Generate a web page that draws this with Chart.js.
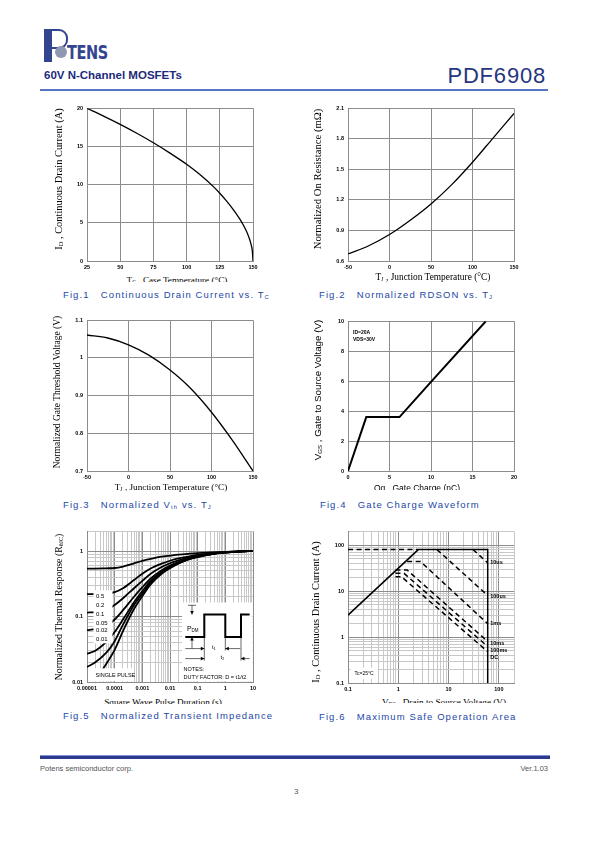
<!DOCTYPE html>
<html lang="es">
<head>
<meta charset="utf-8">
<title>PDF6908</title>
<script src="https://cdn.jsdelivr.net/npm/chart.js@4.4.1/dist/chart.umd.min.js"></script>
<style>
  html, body { margin: 0; padding: 0; background: #fff; }
  body { position: relative; width: 595px; height: 842px; overflow: hidden; font-family: Arial, "Liberation Sans", sans-serif; }
  canvas { position: absolute; }
  .abs { position: absolute; white-space: pre; }
  .ytit { position: absolute; white-space: nowrap; transform: translate(-50%, -50%) rotate(-90deg); font-family: "Liberation Serif", "Times New Roman", serif; font-size: 10px; color: #000; }
  .xtit { position: absolute; white-space: nowrap; transform: translate(-50%, -50%); font-family: "Liberation Serif", "Times New Roman", serif; font-size: 9.2px; color: #000; }
  .sans { font-family: Arial, "Liberation Sans", sans-serif; font-size: 8.5px; }
  .cap { position: absolute; white-space: pre; color: #2447a6; font-size: 9.5px; line-height: 12px; letter-spacing: 1.1px; background: #fff; padding-right: 4px; }
  sub { font-size: 62%; vertical-align: -0.25em; line-height: 0; }
</style>
</head>
<body>

<!-- Encabezado -->
<div class="abs" style="left:44px;top:29px;width:8px;height:33px;background:#34458f"></div>
<div class="abs" style="left:52px;top:29px;width:14px;height:16px;border:2px solid #34458f;border-left:none;border-radius:0 9px 9px 0"></div>
<div class="abs" style="left:55px;top:46px;width:12px;height:12px;border-radius:50%;background:#9097b0"></div>
<div class="abs" style="left:67px;top:41px;font:bold 19px 'DejaVu Sans Condensed', 'DejaVu Sans', sans-serif;color:#34458f;letter-spacing:-0.5px;transform:scaleX(0.85);transform-origin:left">TENS</div>
<div class="abs" style="left:44px;top:69px;font-weight:bold;font-size:11.5px;color:#1c2a7c">60V N-Channel MOSFETs</div>
<div class="abs" style="right:49px;top:63px;font-size:22px;color:#263581;letter-spacing:0.8px">PDF6908</div>
<div class="abs" style="left:40px;top:89px;width:508px;height:2px;background:#5676c4"></div>

<!-- Graficos -->
<canvas id="c1"></canvas>
<canvas id="c2"></canvas>
<canvas id="c3"></canvas>
<canvas id="c4"></canvas>
<canvas id="c5"></canvas>
<canvas id="c6"></canvas>

<!-- Titulos de ejes -->
<div class="ytit" style="left:58px;top:179px;font-size:10.4px">I<sub>D</sub> , Continuous Drain Current (A)</div>
<div class="xtit" style="left:177px;top:280px">T<sub>C</sub> , Case Temperature (°C)</div>
<div class="ytit" style="left:317px;top:179px;font-size:10.7px">Normalized On Resistance (mΩ)</div>
<div class="xtit" style="left:433px;top:277px;font-size:9.4px">T<sub>J</sub> , Junction Temperature (°C)</div>
<div class="ytit" style="left:57px;top:392px;font-size:9.5px">Normalized Gate Threshold Voltage (V)</div>
<div class="xtit" style="left:171px;top:487px">T<sub>J</sub> , Junction Temperature (°C)</div>
<div class="ytit sans" style="left:317px;top:390px;font-size:9.8px">V<sub>GS</sub> , Gate to Source Voltage (V)</div>
<div class="xtit sans" style="left:417px;top:488px">Qg , Gate Charge (nC)</div>
<div class="ytit" style="left:58px;top:607px;font-size:9.8px">Normalized Thermal Response (R<sub>θJC</sub>)</div>
<div class="xtit" style="left:163px;top:702px">Square Wave Pulse Duration (s)</div>
<div class="ytit" style="left:315px;top:612px;font-size:10.4px">I<sub>D</sub> , Continuous Drain Current (A)</div>
<div class="xtit" style="left:444px;top:702px">V<sub>DS</sub> , Drain to Source Voltage (V)</div>

<!-- Leyendas de figura -->
<div class="cap" style="left:63px;top:282px;padding-top:7px">Fig.1   Continuous Drain Current vs. T<sub>C</sub></div>
<div class="cap" style="left:319px;top:289px">Fig.2   Normalized RDSON vs. T<sub>J</sub></div>
<div class="cap" style="left:63px;top:499px">Fig.3   Normalized V<sub>th</sub> vs. T<sub>J</sub></div>
<div class="cap" style="left:320px;top:490px;padding-top:9px">Fig.4   Gate Charge Waveform</div>
<div class="cap" style="left:63px;top:704px;padding-top:6px">Fig.5   Normalized Transient Impedance</div>
<div class="cap" style="left:319px;top:703px;padding-top:8px">Fig.6   Maximum Safe Operation Area</div>

<!-- Pie de pagina -->
<div class="abs" style="left:40px;top:755px;width:510px;height:3px;background:#2b3a8f;border-top:1px solid #7f93d0"></div>
<div class="abs" style="left:40px;top:764px;font-size:7.5px;color:#555">Potens semiconductor corp.</div>
<div class="abs" style="right:47px;top:764px;font-size:7.5px;color:#555">Ver.1.03</div>
<div class="abs" style="left:294px;top:787px;font-size:8px;color:#555">3</div>

<script>
// ---------- Datos Fig.1: corriente de dren vs temperatura de caja ----------
const tempCaso = [25, 37.5, 50, 62.5, 75, 87.5, 100, 110, 120, 125, 130, 135, 140, 143, 145, 147, 148.5, 149.5, 150];
const corrienteDren = [20, 18.98, 17.89, 16.73, 15.48, 14.13, 12.67, 11.32, 9.77, 8.87, 7.87, 6.77, 5.52, 4.62, 3.92, 3.06, 2.2, 1.3, 0];

// ---------- Datos Fig.2 y Fig.3: temperatura de union ----------
const tempUnion = [-50, -25, 0, 25, 50, 75, 100, 125, 150];
const rdsNorm = [0.67, 0.75, 0.86, 1.0, 1.16, 1.35, 1.57, 1.81, 2.05];
const vthNorm = [1.061, 1.053, 1.035, 1.007, 0.968, 0.919, 0.856, 0.782, 0.70];

// ---------- Datos Fig.4: carga de puerta ----------
const cargaPuerta = [0, 2.2, 6.2, 10, 16.6];
const voltajeGS = [0, 3.6, 3.6, 5.95, 10];

// ---------- Datos Fig.5: impedancia transitoria ----------
const tiempoPulso = [1e-5, 2e-5, 5e-5, 1e-4, 2e-4, 5e-4, 1e-3, 2e-3, 5e-3, 1e-2, 2e-2, 5e-2, 0.1, 0.3, 1, 3, 10];
const zDuty05 = [0.54, 0.54, 0.545, 0.55, 0.58, 0.65, 0.71, 0.76, 0.82, 0.85, 0.88, 0.91, 0.93, 0.95, 0.97, 0.985, 1.0];
const zDuty02 = [0.22, 0.22, 0.225, 0.235, 0.27, 0.36, 0.45, 0.54, 0.64, 0.71, 0.77, 0.83, 0.87, 0.92, 0.96, 0.985, 1.0];
const zDuty01 = [0.115, 0.117, 0.125, 0.15, 0.19, 0.27, 0.35, 0.45, 0.57, 0.65, 0.72, 0.80, 0.85, 0.91, 0.955, 0.98, 1.0];
const zDuty005 = [0.062, 0.064, 0.072, 0.09, 0.125, 0.2, 0.28, 0.38, 0.51, 0.60, 0.68, 0.77, 0.83, 0.9, 0.95, 0.98, 1.0];
const zDuty002 = [0.027, 0.03, 0.041, 0.058, 0.09, 0.165, 0.245, 0.35, 0.48, 0.575, 0.66, 0.76, 0.82, 0.895, 0.95, 0.98, 1.0];
const zDuty001 = [0.017, 0.02, 0.028, 0.042, 0.075, 0.15, 0.225, 0.33, 0.465, 0.56, 0.65, 0.755, 0.815, 0.89, 0.95, 0.98, 1.0];
const tiempoPulsoUnico = [2e-5, 5e-5, 1e-4, 2e-4, 5e-4, 1e-3, 2e-3, 5e-3, 1e-2, 2e-2, 5e-2, 0.1, 0.3, 1, 3, 10];
const zPulsoUnico = [0.0105, 0.019, 0.031, 0.06, 0.13, 0.205, 0.31, 0.45, 0.545, 0.64, 0.75, 0.81, 0.89, 0.945, 0.98, 1.0];
const etiquetasDuty = ['0.5', '0.2', '0.1', '0.05', '0.02', '0.01'];
const ticksTiempo = [1e-5, 1e-4, 1e-3, 1e-2, 0.1, 1, 10];
const etiquetasTiempo = ['0.00001', '0.0001', '0.001', '0.01', '0.1', '1', '10'];
const ticksZth = [0.01, 0.1, 1];
const etiquetasZth = ['0.01', '0.1', '1'];

// ---------- Datos Fig.6: area de operacion segura ----------
const vdsRds = [0.1, 2.5, 60, 60];
const idRds = [3, 80, 80, 0.1];
const vdsLimite = [0.1, 2.5];
const idLimite = [80, 80];
const vds10us = [30.8, 60];
const id10us = [80, 41];
const vds100us = [5.9, 60];
const id100us = [80, 8];
const vds1ms = [1.5, 2.76, 60];
const id1ms = [44, 44, 1.95];
const vds10ms = [0.88, 1.5, 60];
const id10ms = [28.7, 28.7, 0.8];
const vds100ms = [0.88, 1.3, 60];
const id100ms = [24.3, 24.3, 0.62];
const vdsDC = [0.88, 1.15, 60];
const idDC = [20.6, 20.6, 0.48];
const etiquetasSoa = ['10us', '100us', '1ms', '10ms', '100ms', 'DC'];
const ticksSoa = [0.1, 1, 10, 100];
const etiquetasTicksSoa = ['0.1', '1', '10', '100'];

// ---------- Configuracion comun ----------
const Y_W = 30, PAD_T = 6, PAD_R = 10, X_H = 14;
const colorGrid = '#8c8c8c';
const colorGridMenor = '#c8c8c8';
const fuenteTicks = { family: "Arial, 'Liberation Sans', sans-serif", size: 5.5, weight: 'bold' };

const puntos = (xs, ys) => xs.map((x, i) => ({ x: x, y: ys[i] }));

// Coloca el canvas para que el area del grafico quede donde esta en la hoja
function montarCanvas(id, area) {
    const c = document.getElementById(id);
    const w = Y_W + (area.r - area.l) + PAD_R;
    const h = PAD_T + (area.b - area.t) + X_H;
    c.width = w;
    c.height = h;
    c.style.left = (area.l - Y_W) + 'px';
    c.style.top = (area.t - PAD_T) + 'px';
    c.style.width = w + 'px';
    c.style.height = h + 'px';
    return c.getContext('2d');
}

function ajuste(esX) {
    return esX ? s => { s.height = X_H; } : s => { s.width = Y_W; };
}

function ejeLineal(min, max, paso, esX) {
    return {
        type: 'linear', min: min, max: max,
        ticks: {
            stepSize: paso, font: fuenteTicks, color: '#000', padding: esX ? 3 : 4, maxRotation: 0, autoSkip: false,
            callback: v => String(Number(v.toFixed(2)))
        },
        grid: { color: colorGrid, lineWidth: 1, drawTicks: false },
        border: { color: colorGrid, width: 1 },
        afterFit: ajuste(esX)
    };
}

// lista de ticks 1..9 por decada
function ticksLog(mayores, max) {
    const lista = [];
    mayores.forEach(v => {
        for (let k = 1; k <= 9; k++) {
            const t = v * k;
            if (t <= max * 1.0001) lista.push({ value: t, major: k === 1 });
        }
    });
    return lista;
}

function ejeLog(min, max, mayores, etiquetas, esX) {
    return {
        type: 'logarithmic', min: min, max: max,
        afterBuildTicks: s => { s.ticks = ticksLog(mayores, max); },
        ticks: {
            font: fuenteTicks, color: '#000', padding: esX ? 3 : 4, maxRotation: 0, autoSkip: false,
            callback: function (valor) {
                const i = mayores.findIndex(m => Math.abs(m - valor) < m * 1e-6);
                return i >= 0 ? etiquetas[i] : '';
            }
        },
        grid: { color: c => (c.tick && c.tick.major) ? colorGrid : colorGridMenor, lineWidth: 1, drawTicks: false },
        border: { color: colorGrid, width: 1 },
        afterFit: ajuste(esX)
    };
}

function opcionesBase(ejeX, ejeY) {
    return {
        responsive: false, animation: false, events: [],
        layout: { padding: { top: PAD_T, right: PAD_R, left: 0, bottom: 0 } },
        plugins: { legend: { display: false }, tooltip: { enabled: false } },
        elements: { point: { radius: 0 } },
        scales: { x: ejeX, y: ejeY }
    };
}

function serie(xs, ys, ancho, extra) {
    return Object.assign({
        data: puntos(xs, ys), borderColor: '#000', borderWidth: ancho,
        pointRadius: 0, fill: false, tension: 0
    }, extra || {});
}
const suave = { tension: 0.4, cubicInterpolationMode: 'monotone' };

// flecha con la punta en (x, y)
function flecha(ctx, x, y, dir) {
    const l = 3.5, m = 1.8;
    ctx.beginPath();
    ctx.moveTo(x, y);
    if (dir === 'r') { ctx.lineTo(x - l, y - m); ctx.lineTo(x - l, y + m); }
    if (dir === 'l') { ctx.lineTo(x + l, y - m); ctx.lineTo(x + l, y + m); }
    if (dir === 'd') { ctx.lineTo(x - m, y - l); ctx.lineTo(x + m, y - l); }
    if (dir === 'u') { ctx.lineTo(x - m, y + l); ctx.lineTo(x + m, y + l); }
    ctx.closePath();
    ctx.fill();
}

function linea(ctx, pts) {
    ctx.beginPath();
    ctx.moveTo(pts[0][0], pts[0][1]);
    for (let i = 1; i < pts.length; i++) ctx.lineTo(pts[i][0], pts[i][1]);
    ctx.stroke();
}

// ---------- Fig.1 ----------
new Chart(montarCanvas('c1', { l: 87, t: 107, r: 253, b: 261 }), {
    type: 'line',
    data: { datasets: [serie(tempCaso, corrienteDren, 1.3, suave)] },
    options: opcionesBase(ejeLineal(25, 150, 25, true), ejeLineal(0, 20, 5, false))
});

// ---------- Fig.2 ----------
new Chart(montarCanvas('c2', { l: 348, t: 107, r: 514, b: 261 }), {
    type: 'line',
    data: { datasets: [serie(tempUnion, rdsNorm, 1.3, suave)] },
    options: opcionesBase(ejeLineal(-50, 150, 50, true), ejeLineal(0.6, 2.1, 0.3, false))
});

// ---------- Fig.3 ----------
new Chart(montarCanvas('c3', { l: 87, t: 319, r: 253, b: 471 }), {
    type: 'line',
    data: { datasets: [serie(tempUnion, vthNorm, 1.3, suave)] },
    options: opcionesBase(ejeLineal(-50, 150, 50, true), ejeLineal(0.7, 1.1, 0.1, false))
});

// ---------- Fig.4 ----------
new Chart(montarCanvas('c4', { l: 348, t: 320, r: 514, b: 471 }), {
    type: 'line',
    data: { datasets: [serie(cargaPuerta, voltajeGS, 2)] },
    options: opcionesBase(ejeLineal(0, 20, 5, true), ejeLineal(0, 10, 2, false)),
    plugins: [{
        id: 'notas4',
        afterDatasetsDraw(chart) {
            const ctx = chart.ctx, a = chart.chartArea;
            ctx.save();
            ctx.fillStyle = '#000';
            ctx.font = "bold 5px Arial, 'Liberation Sans', sans-serif";
            ctx.textBaseline = 'middle';
            ctx.fillText('ID=20A', a.left + 5, a.top + 11);
            ctx.fillText('VDS=30V', a.left + 5, a.top + 18);
            ctx.restore();
        }
    }]
});

// ---------- Fig.5 ----------
const seriesDuty = [zDuty05, zDuty02, zDuty01, zDuty005, zDuty002, zDuty001];
const datasets5 = seriesDuty.map(z => serie(tiempoPulso, z, 1.8, suave));
datasets5.push(serie(tiempoPulsoUnico, zPulsoUnico, 1.8, suave));

new Chart(montarCanvas('c5', { l: 87, t: 530, r: 253, b: 682 }), {
    type: 'line',
    data: { datasets: datasets5 },
    options: opcionesBase(ejeLog(1e-5, 10, ticksTiempo, etiquetasTiempo, true), ejeLog(0.01, 2, ticksZth, etiquetasZth, false)),
    plugins: [{
        id: 'notas5',
        afterDatasetsDraw(chart) {
            const ctx = chart.ctx, a = chart.chartArea;
            ctx.save();
            // cajas blancas de las etiquetas
            ctx.fillStyle = '#fff';
            ctx.fillRect(a.left + 6.5, a.top + 59, 19, 53);
            ctx.fillRect(a.left + 6.5, a.top + 137, 40, 13);
            ctx.fillRect(a.right - 71, a.bottom - 79.5, 70.5, 79);
            ctx.fillStyle = '#000';
            ctx.textBaseline = 'middle';
            ctx.font = "6px Arial, 'Liberation Sans', sans-serif";
            const filas = [65, 74, 83, 91.7, 99.3, 107.7];
            etiquetasDuty.forEach((t, i) => ctx.fillText(t, a.left + 9, a.top + filas[i]));
            ctx.font = "5.5px Arial, 'Liberation Sans', sans-serif";
            ctx.fillText('SINGLE PULSE', a.left + 8.5, a.top + 144);

            // esquema del pulso
            ctx.translate(a.right - 71, a.bottom - 79.4);
            ctx.strokeStyle = '#000';
            ctx.lineWidth = 2;
            linea(ctx, [[3.3, 34.4], [22.3, 34.4], [22.3, 12], [43.3, 12], [43.3, 34.4], [59, 34.4], [59, 12], [67.6, 12]]);
            ctx.lineWidth = 0.6;
            linea(ctx, [[6, 2.7], [14, 2.7]]);
            linea(ctx, [[10, 2.7], [10, 12]]);
            flecha(ctx, 10, 12, 'd');
            linea(ctx, [[10, 46], [10, 34.4]]);
            flecha(ctx, 10, 34.4, 'u');
            linea(ctx, [[22.3, 34.4], [22.3, 58]]);
            linea(ctx, [[43.3, 34.4], [43.3, 48]]);
            linea(ctx, [[59, 34.4], [59, 58]]);
            linea(ctx, [[3.3, 46], [22.3, 46]]);
            flecha(ctx, 22.3, 46, 'r');
            linea(ctx, [[43.3, 46], [58.3, 46]]);
            flecha(ctx, 43.3, 46, 'l');
            linea(ctx, [[3.3, 56], [22.3, 56]]);
            flecha(ctx, 22.3, 56, 'r');
            linea(ctx, [[59, 56], [67.6, 56]]);
            flecha(ctx, 59, 56, 'l');
            ctx.font = "7px Arial, 'Liberation Sans', sans-serif";
            ctx.fillText('P', 5, 26.5);
            ctx.font = "4.5px Arial, 'Liberation Sans', sans-serif";
            ctx.fillText('DM', 9.5, 28.5);
            ctx.font = "6px Arial, 'Liberation Sans', sans-serif";
            ctx.fillText('t', 30, 45);
            ctx.fillText('t', 38.5, 55);
            ctx.font = "3.5px Arial, 'Liberation Sans', sans-serif";
            ctx.fillText('1', 31.8, 46.5);
            ctx.fillText('2', 40.3, 56.5);
            ctx.font = "5.5px Arial, 'Liberation Sans', sans-serif";
            ctx.fillText('NOTES:', 1.6, 67);
            ctx.fillText('DUTY FACTOR: D = t1/t2', 1.6, 74.5);
            ctx.restore();
        }
    }]
});

// ---------- Fig.6 ----------
const discontinua = { borderDash: [5, 3.5] };
const datasets6 = [
    serie(vdsRds, idRds, 1.5),
    serie(vdsLimite, idLimite, 1.5, discontinua),
    serie(vds10us, id10us, 1.5, discontinua),
    serie(vds100us, id100us, 1.5, discontinua),
    serie(vds1ms, id1ms, 1.5, discontinua),
    serie(vds10ms, id10ms, 1.5, discontinua),
    serie(vds100ms, id100ms, 1.5, discontinua),
    serie(vdsDC, idDC, 1.5, discontinua)
];

new Chart(montarCanvas('c6', { l: 348, t: 530, r: 514, b: 683 }), {
    type: 'line',
    data: { datasets: datasets6 },
    options: opcionesBase(ejeLog(0.1, 200, ticksSoa, etiquetasTicksSoa, true), ejeLog(0.1, 200, ticksSoa, etiquetasTicksSoa, false)),
    plugins: [{
        id: 'notas6',
        afterDatasetsDraw(chart) {
            const ctx = chart.ctx, a = chart.chartArea;
            ctx.save();
            ctx.fillStyle = '#000';
            ctx.textBaseline = 'middle';
            ctx.font = "bold 5.5px Arial, 'Liberation Sans', sans-serif";
            const xEtiqueta = chart.scales.x.getPixelForValue(60) + 2.5;
            const ajusteY = [0, 0.7, 0, 1.5, 3.4, 5.4];
            etiquetasSoa.forEach((t, i) => {
                const meta = chart.getDatasetMeta(i + 2);
                const ultimo = meta.data[meta.data.length - 1];
                ctx.fillText(t, xEtiqueta, ultimo.y + ajusteY[i]);
            });
            ctx.fillStyle = '#fff';
            ctx.fillRect(a.left + 2.7, a.bottom - 15.3, 27, 11);
            ctx.fillStyle = '#000';
            ctx.font = "5px Arial, 'Liberation Sans', sans-serif";
            ctx.fillText('Tc=25°C', a.left + 6.5, a.bottom - 9.8);
            ctx.restore();
        }
    }]
});
</script>
</body>
</html>
